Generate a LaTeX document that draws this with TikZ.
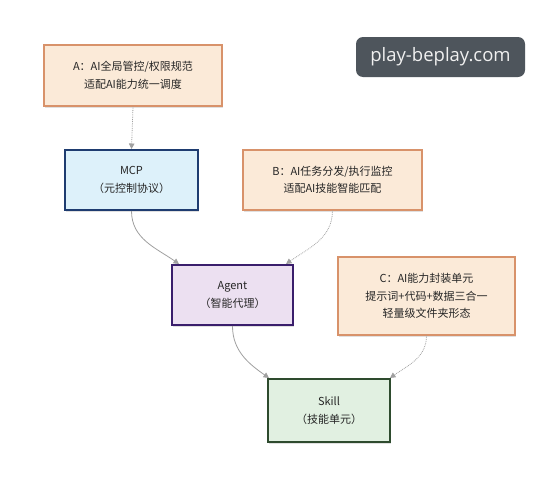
\documentclass[tikz,border=0pt]{standalone}
\usepackage{fontspec}
\setmainfont{Noto Sans CJK SC}
\usetikzlibrary{arrows.meta,shadows}
\definecolor{peachfill}{HTML}{FBEAD8}
\definecolor{peachdraw}{HTML}{D8926A}
\definecolor{bluefill}{HTML}{DDF1FA}
\definecolor{bluedraw}{HTML}{1E3C70}
\definecolor{purplefill}{HTML}{ECE0F1}
\definecolor{purpledraw}{HTML}{3A1E6C}
\definecolor{greenfill}{HTML}{E1F0E1}
\definecolor{greendraw}{HTML}{2E4B2E}
\definecolor{wmfill}{HTML}{4E555C}
\definecolor{linkgray}{HTML}{A0A0A0}
\begin{document}
\begin{tikzpicture}[x=1pt,y=-1pt,
  box/.style={rectangle, align=center, font=\fontsize{11}{17.5}\selectfont, text=black!85, inner sep=2pt,
     drop shadow={shadow xshift=1pt, shadow yshift=-1.5pt, opacity=0.12, fill=black}},
  notebox/.style={box, fill=peachfill, draw=peachdraw, line width=1.2pt},
  mainbox/.style={box, line width=2pt},
  link/.style={draw=linkgray, line width=0.8pt, -{Triangle[length=5.5pt,width=5.5pt]}, linkgray},
  dotlink/.style={link, densely dotted}]
\useasboundingbox (0,0) rectangle (560,485);
\fill[white] (0,0) rectangle (560,485);

\node[notebox, minimum width=178pt, minimum height=61pt] (a) at (133,75.5)
  {A：AI全局管控/权限规范\\适配AI能力统一调度};
\node[mainbox, fill=bluefill, draw=bluedraw, minimum width=133pt, minimum height=60pt] (mcp) at (131.5,180)
  {MCP\\（元控制协议）};
\node[notebox, minimum width=179pt, minimum height=60pt] (b) at (332.5,180)
  {B：AI任务分发/执行监控\\适配AI技能智能匹配};
\node[mainbox, fill=purplefill, draw=purpledraw, minimum width=121pt, minimum height=60pt] (agent) at (232.5,295)
  {Agent\\（智能代理）};
\node[notebox, minimum width=177pt, minimum height=78pt] (c) at (426.5,296)
  {C：AI能力封装单元\\提示词+代码+数据三合一\\轻量级文件夹形态};
\node[mainbox, fill=greenfill, draw=greendraw, minimum width=122pt, minimum height=63pt] (skill) at (329,410.5)
  {Skill\\（技能单元）};

\node[rectangle, rounded corners=7pt, fill=wmfill, text=white!88!gray, minimum width=169pt, minimum height=40pt,
  font=\fontsize{18.5}{20}\selectfont] (wm) at (440.5,57) {\fontspec{Open Sans}play-beplay.com};

\draw[dotlink] (a.south) -- (mcp.north);
\draw[link] (mcp.south) to[out=-90, in=145] ([xshift=8pt]agent.north west);
\draw[dotlink] (b.south) to[out=-90, in=35] ([xshift=-8pt]agent.north east);
\draw[link] (agent.south) to[out=-90, in=145] ([xshift=2pt]skill.north west);
\draw[dotlink] (c.south) to[out=-90, in=35] ([xshift=-1pt]skill.north east);
\end{tikzpicture}
\end{document}
